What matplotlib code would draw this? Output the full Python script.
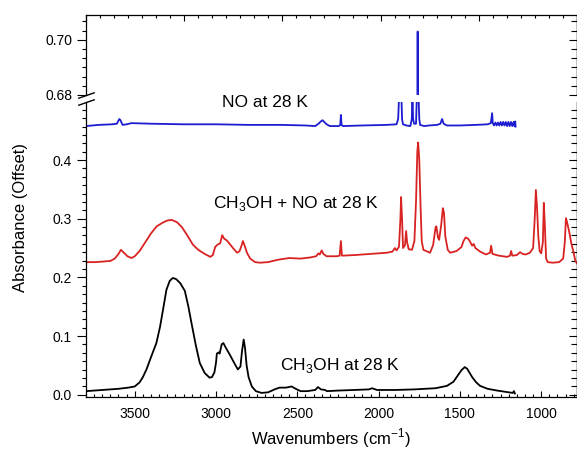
import matplotlib.pyplot as plt
import numpy as np
from matplotlib.ticker import MultipleLocator, AutoMinorLocator, FixedLocator, FormatStrFormatter

plt.rcParams['font.family'] = ['Liberation Sans', 'DejaVu Sans']
plt.rcParams['mathtext.fontset'] = 'custom'
plt.rcParams['mathtext.rm'] = 'Liberation Sans'

# CH3OH at 28 K (wavenumber, absorbance)
meoh_wn = [3800, 3700, 3600, 3540, 3500, 3470, 3450, 3428, 3400, 3367, 3345, 3326, 3305, 3285,
           3266, 3245, 3220, 3192, 3170, 3151, 3125, 3100, 3070, 3040, 3025, 3010, 3000, 2995,
           2985, 2978, 2965, 2955, 2940, 2915, 2890, 2866, 2850, 2840, 2830, 2822, 2812, 2800,
           2780, 2755, 2720, 2680, 2640, 2610, 2570, 2535, 2510, 2480, 2440, 2390, 2373, 2355,
           2330, 2318, 2250, 2150, 2060, 2040, 2010, 1900, 1780, 1650, 1580, 1540, 1515, 1490,
           1470, 1455, 1440, 1425, 1400, 1376, 1330, 1271, 1200, 1175, 1168, 1162]
meoh_abs = [0.006, 0.008, 0.010, 0.012, 0.014, 0.021, 0.030, 0.043, 0.064, 0.088, 0.115, 0.145, 0.179, 0.194,
            0.199, 0.197, 0.190, 0.177, 0.150, 0.122, 0.085, 0.054, 0.037, 0.029, 0.030, 0.038, 0.055, 0.070,
            0.072, 0.070, 0.086, 0.088, 0.080, 0.068, 0.055, 0.043, 0.048, 0.075, 0.094, 0.080, 0.050, 0.030,
            0.014, 0.006, 0.003, 0.004, 0.009, 0.012, 0.012, 0.014, 0.010, 0.006, 0.006, 0.008, 0.013, 0.009,
            0.008, 0.006, 0.007, 0.008, 0.009, 0.011, 0.008, 0.008, 0.009, 0.011, 0.015, 0.022, 0.032, 0.042,
            0.047, 0.044, 0.037, 0.030, 0.021, 0.015, 0.010, 0.007, 0.004, 0.003, 0.006, 0.002]

# CH3OH + NO at 28 K
mix_wn = [3800, 3740, 3697, 3650, 3623, 3600, 3585, 3570, 3545, 3520, 3500, 3470, 3440, 3400,
          3365, 3330, 3300, 3272, 3240, 3211, 3180, 3143, 3110, 3070, 3035, 3020, 3005, 2990,
          2975, 2962, 2950, 2934, 2910, 2890, 2870, 2855, 2842, 2835, 2825, 2810, 2790, 2760,
          2730, 2680, 2620, 2550, 2480, 2420, 2385, 2370, 2362, 2350, 2340, 2320, 2260, 2240,
          2232, 2226, 2150, 2050, 1950, 1915, 1900, 1890, 1875, 1866, 1862, 1856, 1850, 1838,
          1831, 1825, 1815, 1795, 1780, 1770, 1762, 1757, 1750, 1742, 1735, 1725, 1700, 1684,
          1665, 1650, 1645, 1635, 1628, 1615, 1605, 1598, 1590, 1575, 1560, 1520, 1490, 1478,
          1465, 1450, 1440, 1425, 1415, 1405, 1376, 1340, 1315, 1308, 1300, 1260, 1210, 1192,
          1185, 1178, 1150, 1130, 1115, 1095, 1070, 1050, 1040, 1033, 1026, 1018, 1010, 1000,
          990, 984, 978, 970, 960, 930, 890, 865, 855, 848, 842, 836, 828, 815, 803, 790, 780]
mix_abs = [0.226, 0.226, 0.227, 0.228, 0.232, 0.240, 0.247, 0.243, 0.236, 0.233, 0.236, 0.245, 0.258, 0.275,
           0.287, 0.293, 0.297, 0.298, 0.294, 0.286, 0.273, 0.256, 0.247, 0.240, 0.235, 0.238, 0.252, 0.256,
           0.258, 0.272, 0.266, 0.263, 0.255, 0.248, 0.242, 0.245, 0.255, 0.262, 0.255, 0.242, 0.232, 0.226,
           0.225, 0.226, 0.230, 0.233, 0.232, 0.234, 0.236, 0.241, 0.239, 0.246, 0.240, 0.236, 0.236, 0.237,
           0.262, 0.237, 0.238, 0.240, 0.242, 0.244, 0.250, 0.246, 0.252, 0.300, 0.337, 0.300, 0.250, 0.255,
           0.279, 0.260, 0.248, 0.247, 0.262, 0.330, 0.415, 0.430, 0.400, 0.320, 0.262, 0.247, 0.244, 0.242,
           0.255, 0.285, 0.287, 0.268, 0.264, 0.290, 0.318, 0.310, 0.270, 0.247, 0.242, 0.245, 0.252, 0.262,
           0.268, 0.266, 0.262, 0.254, 0.257, 0.250, 0.244, 0.239, 0.242, 0.254, 0.240, 0.237, 0.235, 0.237,
           0.245, 0.237, 0.238, 0.243, 0.240, 0.239, 0.242, 0.250, 0.300, 0.349, 0.320, 0.270, 0.245, 0.241,
           0.260, 0.327, 0.290, 0.232, 0.226, 0.225, 0.226, 0.232, 0.260, 0.301, 0.295, 0.288, 0.278, 0.258,
           0.245, 0.228, 0.224]

# NO at 28 K
no_wn = [3800, 3720, 3640, 3610, 3595, 3588, 3575, 3550, 3520, 3400, 3200, 3000, 2800, 2600,
         2450, 2390, 2370, 2355, 2345, 2335, 2320, 2300, 2245, 2236, 2232, 2228, 2220, 2100,
         1950, 1890, 1880, 1874, 1860, 1856, 1850, 1830, 1805, 1796, 1792, 1788, 1782, 1770,
         1764, 1760, 1756, 1750, 1745, 1720, 1690, 1640, 1620, 1610, 1600, 1580, 1500, 1400,
         1330, 1310, 1302, 1298, 1290, 1282, 1274, 1266, 1258, 1250, 1242, 1234, 1226, 1218,
         1210, 1202, 1194, 1186, 1178, 1170, 1164, 1160, 1158]
no_abs = [0.458, 0.460, 0.461, 0.462, 0.470, 0.468, 0.460, 0.461, 0.463, 0.462, 0.461, 0.461, 0.460, 0.460,
          0.459, 0.458, 0.462, 0.466, 0.468, 0.465, 0.461, 0.458, 0.458, 0.460, 0.477, 0.460, 0.458, 0.459,
          0.460, 0.461, 0.470, 0.510, 0.510, 0.470, 0.461, 0.459, 0.458, 0.470, 0.510, 0.470, 0.462, 0.462,
          0.520, 0.703, 0.520, 0.470, 0.460, 0.458, 0.459, 0.460, 0.462, 0.470, 0.462, 0.459, 0.459, 0.460,
          0.461, 0.463, 0.480, 0.463, 0.459, 0.464, 0.459, 0.464, 0.459, 0.465, 0.459, 0.465, 0.459, 0.465,
          0.458, 0.465, 0.458, 0.465, 0.458, 0.465, 0.458, 0.466, 0.457]

xmin, xmax = 3800, 780
lw = 1.3

fig = plt.figure(figsize=(5.77, 4.51), dpi=100)
ax_lo = fig.add_axes([0.149, 0.1197, 0.851, 0.6541])
ax_hi = fig.add_axes([0.149, 0.7894, 0.851, 0.1774])

for ax in (ax_lo, ax_hi):
    ax.plot(meoh_wn, meoh_abs, color='black', lw=lw)
    ax.plot(mix_wn, mix_abs, color='#d92323', lw=lw)
    ax.plot(no_wn, no_abs, color='#1c1cd0', lw=lw)
    ax.set_xlim(xmin, xmax)
    for s in ax.spines.values():
        s.set_linewidth(0.9)

ax_lo.set_ylim(-0.004, 0.499)
ax_hi.set_ylim(0.68, 0.709)

# lower panel
ax_lo.spines['top'].set_visible(False)
ax_lo.xaxis.set_major_locator(MultipleLocator(500))
ax_lo.xaxis.set_minor_locator(MultipleLocator(50))
ax_lo.yaxis.set_major_locator(MultipleLocator(0.1))
ax_lo.yaxis.set_minor_locator(AutoMinorLocator(7))
ax_lo.yaxis.set_major_formatter(FormatStrFormatter('%.1f'))
ax_lo.tick_params(axis='x', which='both', direction='in', top=False, bottom=True, labelsize=10, pad=7)
ax_lo.tick_params(axis='x', which='major', length=4.5, width=0.8)
ax_lo.tick_params(axis='x', which='minor', length=2.4, width=0.8)
ax_lo.tick_params(axis='y', which='both', direction='out', left=True, right=False, labelsize=10)
ax_lo.tick_params(axis='y', which='major', length=6.5, width=0.8)
ax_lo.tick_params(axis='y', which='minor', length=3, width=0.8)

# upper panel
ax_hi.spines['bottom'].set_visible(False)
ax_hi.xaxis.set_major_locator(FixedLocator(np.linspace(xmin, xmax, 6)))
ax_hi.xaxis.set_minor_locator(FixedLocator(np.linspace(xmin, xmax, 36)))
ax_hi.tick_params(axis='x', which='both', direction='in', top=True, bottom=False,
                  labelbottom=False, labeltop=False)
ax_hi.tick_params(axis='x', which='major', length=4.5, width=0.8)
ax_hi.tick_params(axis='x', which='minor', length=2.4, width=0.8)
ax_hi.yaxis.set_major_locator(MultipleLocator(0.02))
ax_hi.yaxis.set_minor_locator(AutoMinorLocator(6))
ax_hi.yaxis.set_major_formatter(FormatStrFormatter('%.2f'))
ax_hi.tick_params(axis='y', which='both', direction='out', left=True, right=False, labelsize=10)
ax_hi.tick_params(axis='y', which='major', length=6.5, width=0.8)
ax_hi.tick_params(axis='y', which='minor', length=3, width=0.8)

# right side inward ticks (no labels)
for ax, nminor in ((ax_lo, 7), (ax_hi, 6)):
    r = ax.secondary_yaxis('right')
    r.yaxis.set_major_locator(ax.yaxis.get_major_locator())
    r.yaxis.set_minor_locator(AutoMinorLocator(nminor))
    r.tick_params(which='both', direction='in', labelright=False)
    r.tick_params(which='major', length=6, width=0.8)
    r.tick_params(which='minor', length=4, width=0.8)
    r.spines['right'].set_linewidth(0.9)

# axis break marks
brk = dict(marker=[(-1, -0.35), (1, 0.35)], markersize=12, linestyle='none',
           color='k', mec='k', mew=1, clip_on=False)
ax_hi.plot([0], [0], transform=ax_hi.transAxes, **brk)
ax_lo.plot([0], [1], transform=ax_lo.transAxes, **brk)

# annotations
ax_lo.text(2964, 0.490, 'NO at 28 K', fontsize=12.5, ha='left', va='baseline')
ax_lo.text(3020, 0.318, 'CH$_3$OH + NO at 28 K', fontsize=12.5, ha='left', va='baseline')
ax_lo.text(2607, 0.0426, 'CH$_3$OH at 28 K', fontsize=12.5, ha='left', va='baseline')

fig.text(331 / 577, 1 - 438 / 451, 'Wavenumbers (cm$^{-1}$)', fontsize=12, ha='center', va='center')
fig.text(21 / 577, 1 - 218 / 451, 'Absorbance (Offset)', fontsize=12, ha='center', va='center',
         rotation=90)

fig.savefig('out.png', dpi=100)
